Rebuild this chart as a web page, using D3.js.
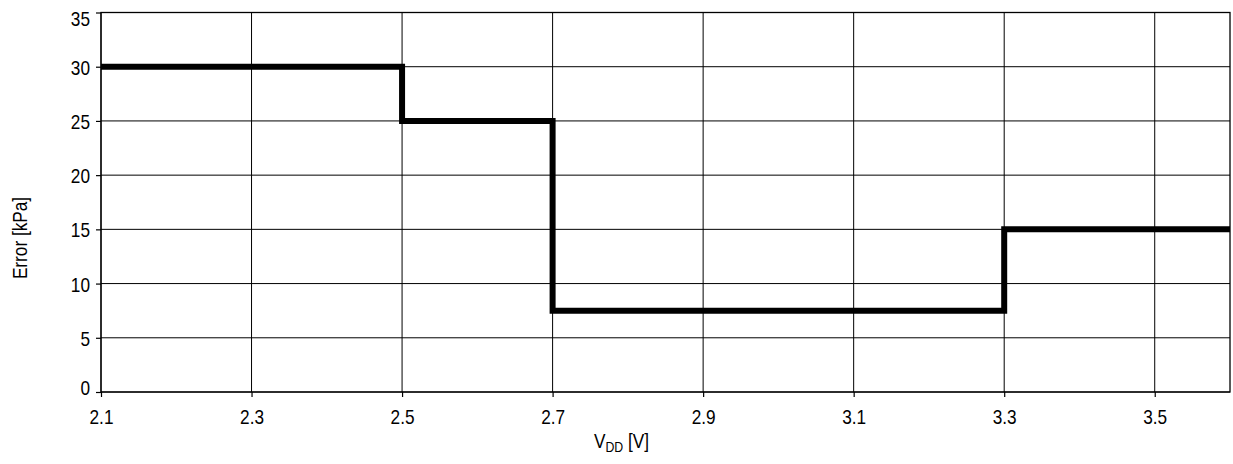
<!DOCTYPE html>
<html>
<head>
<meta charset="utf-8">
<script src="https://cdn.jsdelivr.net/npm/d3@7"></script>
<style>
  html, body { margin: 0; padding: 0; background: #fff; }
  svg text { font-family: "Liberation Sans Narrow", "Arial Narrow", "Liberation Sans", Arial, sans-serif; fill: #000; }
</style>
</head>
<body>
<svg id="chart" width="1233" height="464"></svg>
<script>
const vddSteps = [2.1, 2.5, 2.7, 3.3, 3.6];
const errorValues = [30, 25, 7.5, 15, 15];
const xTicks = [2.1, 2.3, 2.5, 2.7, 2.9, 3.1, 3.3, 3.5];
const yTicks = [0, 5, 10, 15, 20, 25, 30, 35];

const SX = 0.82;      // horizontal condensing to imitate a narrow font
const FS = 21;

const svg = d3.select("#chart");
const margin = { left: 101, right: 3, top: 12.5, bottom: 72 };
const W = 1233, H = 464;
const x = d3.scaleLinear().domain([2.1, 3.6]).range([margin.left, W - margin.right]);
const y = d3.scaleLinear().domain([0, 35]).range([H - margin.bottom, margin.top]);

// gridlines
const g = svg.append("g");
g.selectAll(".vg").data(xTicks).enter().append("line")
  .attr("x1", d => x(d)).attr("x2", d => x(d))
  .attr("y1", y(0)).attr("y2", y(35))
  .attr("stroke", "#000").attr("stroke-width", 1);
g.selectAll(".hg").data(yTicks).enter().append("line")
  .attr("x1", x(2.1)).attr("x2", x(3.6))
  .attr("y1", d => y(d)).attr("y2", d => y(d))
  .attr("stroke", "#000").attr("stroke-width", 1);

// frame
svg.append("rect")
  .attr("x", x(2.1)).attr("y", y(35))
  .attr("width", x(3.6) - x(2.1)).attr("height", y(0) - y(35))
  .attr("fill", "none").attr("stroke", "#000").attr("stroke-width", 1.3);

// axes
const xAxis = d3.axisBottom(x).tickValues(xTicks).tickFormat(d3.format(".1f")).tickSize(5).tickPadding(12);
const yAxis = d3.axisLeft(y).tickValues(yTicks).tickFormat(d3.format("d")).tickSize(5).tickPadding(6);

const gx = svg.append("g").attr("transform", `translate(0,${y(0)})`).call(xAxis);
const gy = svg.append("g").attr("transform", `translate(${x(2.1)},0)`).call(yAxis);
[gx, gy].forEach(a => {
  a.select(".domain").remove();
  a.selectAll(".tick line").attr("stroke", "#000").attr("stroke-width", 1.2);
  a.selectAll(".tick text").style("font-size", FS + "px").attr("transform", `scale(${SX},1)`);
});
gy.selectAll(".tick text")
  .attr("x", -11 / SX)
  .attr("dy", d => d === 35 ? "0.6em" : d === 0 ? "0.14em" : "0.36em");

// step line
const line = d3.line()
  .x(d => x(d[0])).y(d => y(d[1]))
  .curve(d3.curveStepAfter);
svg.append("path")
  .datum(vddSteps.map((v, i) => [v, errorValues[i]]))
  .attr("d", line)
  .attr("fill", "none")
  .attr("stroke", "#000")
  .attr("stroke-width", 6)
  .attr("stroke-linejoin", "miter")
  .attr("stroke-linecap", "butt");

// axis titles
const xt = svg.append("text")
  .attr("transform", `translate(594,448) scale(${SX},1)`)
  .style("font-size", FS + "px");
xt.append("tspan").text("V");
xt.append("tspan").attr("dy", 4).style("font-size", "15px").text("DD");
xt.append("tspan").attr("dy", -4).text(" [V]");

svg.append("text")
  .attr("transform", `translate(27,238) rotate(-90) scale(${SX},1)`)
  .attr("text-anchor", "middle")
  .style("font-size", FS + "px")
  .text("Error [kPa]");
</script>
</body>
</html>
